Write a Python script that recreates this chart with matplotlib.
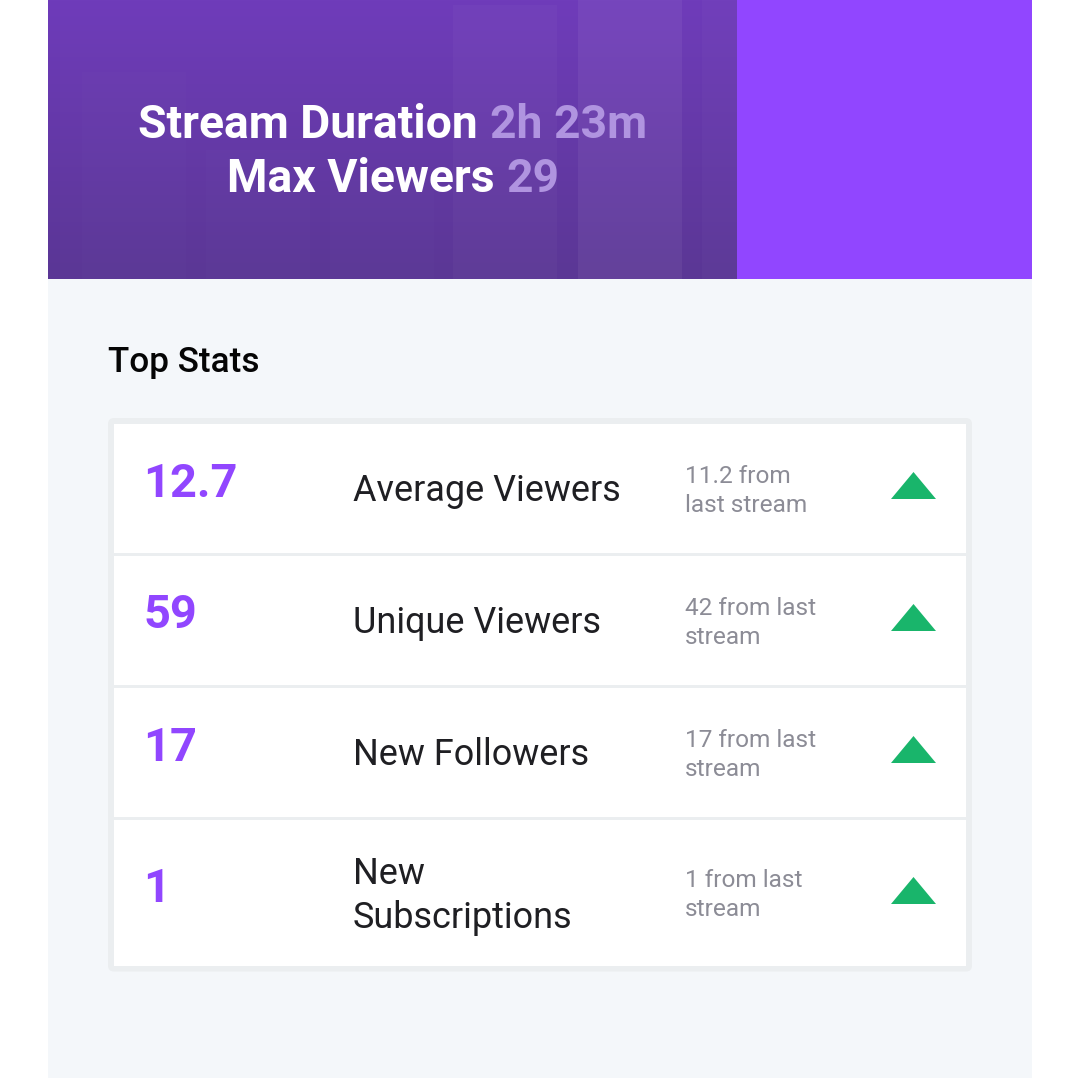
import numpy as np
import matplotlib.pyplot as plt
from matplotlib.colors import LinearSegmentedColormap
from matplotlib.patches import Rectangle, FancyBboxPatch, Polygon

plt.rcParams['font.family'] = ['Roboto', 'DejaVu Sans']

# 数据
stat_values = ['12.7', '59', '17', '1']
stat_names = ['Average Viewers', 'Unique Viewers', 'New Followers', 'New\nSubscriptions']
stat_changes = ['11.2 from\nlast stream', '42 from last\nstream', '17 from last\nstream', '1 from last\nstream']
duration_text = '2h 23m'
max_viewers_text = '29'

# 每行的位置
row_tops = [424, 556, 688, 820]
row_bottoms = [553, 685, 817, 966]
value_base = [497, 628, 761, 902]
name_y = [491, 623, 755, 896]
change_y = [491, 623, 755, 895]
arrow_base = [499, 631, 763, 904]

PURPLE = '#9146ff'
GREEN = '#19b56b'

fig = plt.figure(figsize=(10.78, 10.78), dpi=100)
ax = fig.add_axes([0, 0, 1, 1])
ax.set_xlim(0, 1078)
ax.set_ylim(1078, 0)
ax.axis('off')

# 页面背景
ax.add_patch(Rectangle((48, 0), 984, 1078, color='#f4f7fa', lw=0))

# 顶部横幅
ax.add_patch(Rectangle((737, 0), 295, 279, color=PURPLE, lw=0))
cmap = LinearSegmentedColormap.from_list('banner', ['#6e3bba', '#5a3695'])
ax.imshow(np.linspace(0, 1, 100).reshape(-1, 1), cmap=cmap, aspect='auto',
          extent=(48, 737, 279, 0), zorder=1)
ax.set_xlim(0, 1078)
ax.set_ylim(1078, 0)

# 横幅里淡淡的柱子
bars = [(60, 0, 640, 0.008), (82, 72, 104, 0.012), (206, 150, 104, 0.012),
        (330, 180, 104, 0.012), (453, 5, 104, 0.028), (578, 0, 104, 0.055), (702, 0, 35, 0.025)]
for x, top, w, alpha in bars:
    ax.add_patch(Rectangle((x, top), w, 279 - top, color='white', alpha=alpha, lw=0, zorder=2))

# 横幅文字
ax.text(138, 138, 'Stream Duration', color='white', fontsize=33.3, fontweight='bold',
        ha='left', va='baseline', zorder=3)
ax.text(490, 138, duration_text, color='#b094e0', fontsize=33.3, fontweight='bold',
        ha='left', va='baseline', zorder=3)
ax.text(227, 192, 'Max Viewers', color='white', fontsize=33.3, fontweight='bold',
        ha='left', va='baseline', zorder=3)
ax.text(506, 192, max_viewers_text, color='#b094e0', fontsize=33.3, fontweight='bold',
        ha='left', va='baseline', zorder=3)

# 标题
ax.text(108, 372, 'Top Stats', color='#050505', fontsize=25.3, fontweight='medium',
        ha='left', va='baseline')

# 表格外框
ax.add_patch(FancyBboxPatch((112, 422), 856, 545.5, boxstyle='round,pad=4,rounding_size=6',
                            fc='#ebeef0', ec='none'))
for top, bottom in zip(row_tops, row_bottoms):
    ax.add_patch(Rectangle((114, top), 852, bottom - top, color='white', lw=0))

# 每一行
for i in range(4):
    ax.text(143, value_base[i], stat_values[i], color=PURPLE, fontsize=33.8, fontweight='bold',
            ha='left', va='baseline')
    ax.text(353, name_y[i], stat_names[i], color='#1f1f23', fontsize=25.9, ha='left',
            va='center', linespacing=1.25)
    ax.text(685, change_y[i], stat_changes[i], color='#8c8c96', fontsize=17.6, ha='left',
            va='center', linespacing=1.29)
    b = arrow_base[i]
    ax.add_patch(Polygon([(891, b), (936, b), (913.5, b - 27)], closed=True, color=GREEN, lw=0))

fig.savefig('out.png', dpi=100)
plt.close(fig)
